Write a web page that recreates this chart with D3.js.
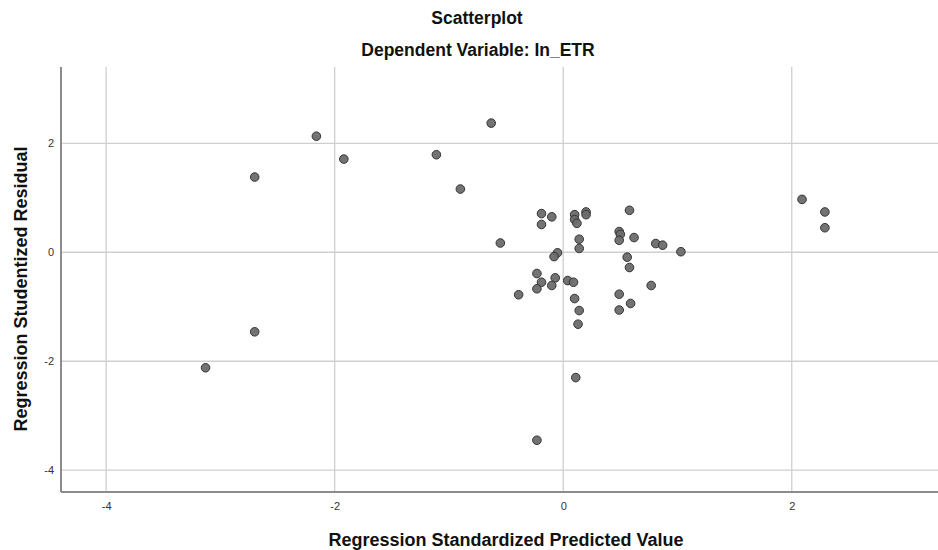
<!DOCTYPE html>
<html lang="en">
<head>
    <meta charset="UTF-8">
    <title>Scatterplot</title>
    <script src="https://d3js.org/d3.v7.min.js"></script>
    <style>
        body {
            margin: 0;
            background-color: #ffffff;
        }
        svg {
            display: block;
            font-family: "Liberation Sans", Arial, sans-serif;
        }
    </style>
</head>
<body>

    <svg width="938" height="550"></svg>

    <script>
        // Regression standardized predicted value (x) and studentized residual (y)
        var predicted = [
            -3.13, -2.70, -2.70, -2.16, -1.92, -1.11, -0.90, -0.63, -0.55, -0.39,
            -0.23, -0.19, -0.10, -0.19, -0.19, -0.23, -0.07, -0.10, -0.05, -0.08,
             0.04,  0.09,  0.10,  0.10,  0.12,  0.20,  0.20,  0.14,  0.14,  0.10,
             0.14,  0.13,  0.11, -0.23,  0.58,  0.49,  0.50,  0.49,  0.62,  0.56,
             0.58,  0.77,  0.49,  0.59,  0.49,  0.81,  0.87,  1.03,  2.09,  2.29,
             2.29
        ];
        var residual = [
            -2.12, -1.46,  1.38,  2.13,  1.71,  1.79,  1.16,  2.37,  0.17, -0.78,
            -0.39,  0.71,  0.65,  0.51, -0.55, -0.67, -0.47, -0.61, -0.01, -0.08,
            -0.52, -0.55,  0.69,  0.60,  0.53,  0.74,  0.69,  0.24,  0.07, -0.85,
            -1.07, -1.32, -2.30, -3.45,  0.77,  0.38,  0.33,  0.22,  0.27, -0.09,
            -0.28, -0.61, -0.77, -0.94, -1.06,  0.16,  0.13,  0.01,  0.97,  0.74,
             0.45
        ];
        var xTicks = [-4, -2, 0, 2];
        var yTicks = [-4, -2, 0, 2];

        var points = predicted.map(function(d, i) {
            return { x: d, y: residual[i] };
        });

        var svg = d3.select("svg");

        var plotLeft = 61, plotRight = 938, plotTop = 67, plotBottom = 492;

        var x = d3.scaleLinear()
                  .domain([-4.395, 3.28])
                  .range([plotLeft, plotRight]);

        var y = d3.scaleLinear()
                  .domain([-4.40, 3.40])
                  .range([plotBottom, plotTop]);

        // Grid lines
        svg.append("g")
           .selectAll("line")
           .data(xTicks)
           .enter()
           .append("line")
           .attr("x1", function(d) { return x(d); })
           .attr("x2", function(d) { return x(d); })
           .attr("y1", plotTop)
           .attr("y2", plotBottom)
           .attr("stroke", "#cfcfcf")
           .attr("stroke-width", 1.3);

        svg.append("g")
           .selectAll("line")
           .data(yTicks)
           .enter()
           .append("line")
           .attr("x1", plotLeft)
           .attr("x2", plotRight)
           .attr("y1", function(d) { return y(d); })
           .attr("y2", function(d) { return y(d); })
           .attr("stroke", "#cfcfcf")
           .attr("stroke-width", 1.3);

        // Axes (plain hyphen minus, as in the original)
        var fmt = function(d) { return String(d); };

        var xAxis = svg.append("g")
           .attr("transform", "translate(0," + plotBottom + ")")
           .call(d3.axisBottom(x).tickValues(xTicks).tickFormat(fmt).tickSize(0).tickPadding(10));

        var yAxis = svg.append("g")
           .attr("transform", "translate(" + plotLeft + ",0)")
           .call(d3.axisLeft(y).tickValues(yTicks).tickFormat(fmt).tickSize(0).tickPadding(7));

        [xAxis, yAxis].forEach(function(a) {
            a.select(".domain").remove();
            a.selectAll("text")
             .attr("font-family", "Liberation Sans, Arial, sans-serif")
             .attr("font-size", 11)
             .attr("fill", "#333");
        });

        svg.append("line")
           .attr("x1", plotLeft).attr("x2", plotLeft)
           .attr("y1", plotTop).attr("y2", plotBottom)
           .attr("stroke", "#8c8c8c")
           .attr("stroke-width", 2);

        svg.append("line")
           .attr("x1", plotLeft).attr("x2", plotRight)
           .attr("y1", plotBottom).attr("y2", plotBottom)
           .attr("stroke", "#8c8c8c")
           .attr("stroke-width", 2);

        // Points
        svg.append("g")
           .selectAll("circle")
           .data(points)
           .enter()
           .append("circle")
           .attr("cx", function(d) { return x(d.x); })
           .attr("cy", function(d) { return y(d.y); })
           .attr("r", 4.3)
           .attr("fill", "#6b6b6b")
           .attr("fill-opacity", 0.95)
           .attr("stroke", "#333")
           .attr("stroke-width", 1);

        // Titles
        svg.append("text")
           .attr("x", 477)
           .attr("y", 24)
           .attr("text-anchor", "middle")
           .attr("font-size", 17.5)
           .attr("font-weight", "bold")
           .attr("fill", "#111")
           .text("Scatterplot");

        svg.append("text")
           .attr("x", 478)
           .attr("y", 56)
           .attr("text-anchor", "middle")
           .attr("font-size", 17.5)
           .attr("font-weight", "bold")
           .attr("fill", "#111")
           .text("Dependent Variable: In_ETR");

        svg.append("text")
           .attr("x", 506)
           .attr("y", 546)
           .attr("text-anchor", "middle")
           .attr("font-size", 18)
           .attr("font-weight", "bold")
           .attr("fill", "#111")
           .text("Regression Standardized Predicted Value");

        svg.append("text")
           .attr("transform", "translate(27,289) rotate(-90)")
           .attr("text-anchor", "middle")
           .attr("font-size", 18)
           .attr("font-weight", "bold")
           .attr("fill", "#111")
           .text("Regression Studentized Residual");
    </script>

</body>
</html>
